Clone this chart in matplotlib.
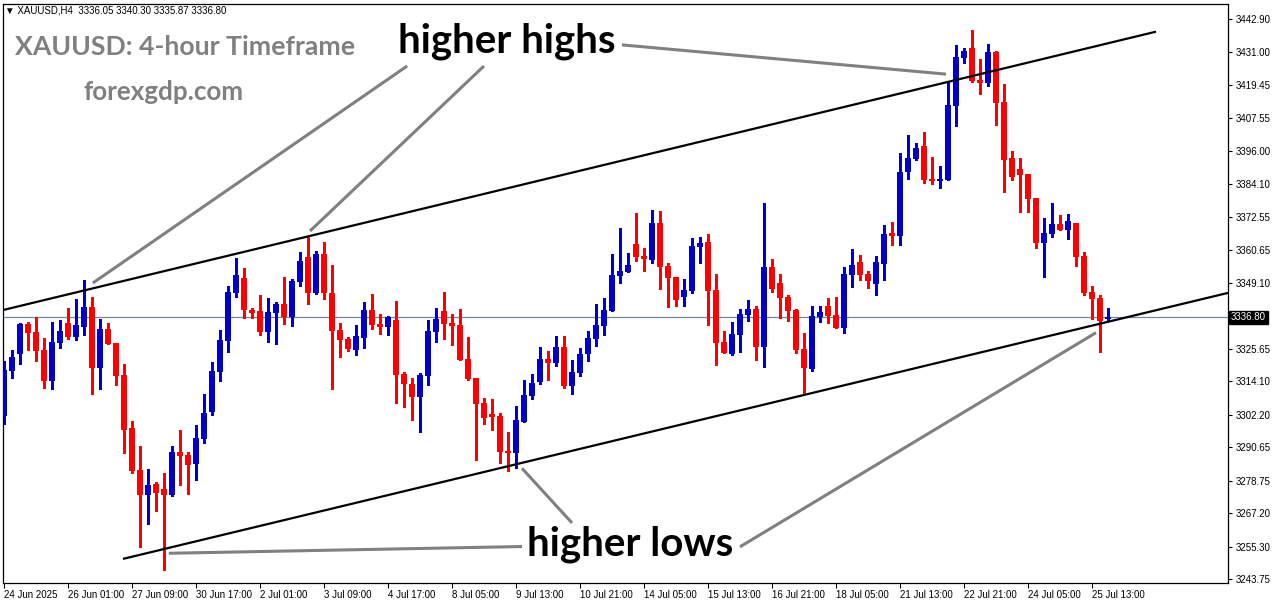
import matplotlib
matplotlib.use('Agg')
import matplotlib.pyplot as plt
import numpy as np
from matplotlib.transforms import blended_transform_factory

# ---------------- data ----------------
opens = [
    3301.8, 3317.8, 3323.9, 3334.4, 3331.6, 3325.2, 3314.3, 3327.8, 3334.7, 3329.9,
    3333.5, 3340.4, 3318.9, 3332.7, 3327.7, 3316.3, 3297.5, 3282.5, 3273.8, 3277.6,
    3275.9, 3273.5, 3288.9, 3287.9, 3284.8, 3293.7, 3303.2, 3317.5, 3328.5, 3345.6,
    3350.8, 3339.4, 3339.1, 3331.7, 3338.5, 3341.6, 3336.9, 3349.5, 3358.3, 3345.4,
    3359.3, 3345.5, 3332.3, 3329.1, 3325.2, 3329.6, 3339.4, 3334.4, 3333.5, 3335.9,
    3316.7, 3313.2, 3308.6, 3316.1, 3331.7, 3339.1, 3334.8, 3334.1, 3322.0, 3315.4,
    3306.4, 3302.3, 3301.7, 3289.3, 3288.7, 3299.7, 3308.9, 3313.9, 3322.0, 3320.7,
    3326.3, 3312.5, 3317.1, 3323.8, 3329.2, 3333.8, 3339.2, 3351.6, 3353.0, 3362.9,
    3358.6, 3357.2, 3370.5, 3355.1, 3351.2, 3344.0, 3346.2, 3361.9, 3363.6, 3346.5,
    3328.0, 3323.9, 3330.6, 3337.7, 3339.8, 3326.4, 3354.7, 3349.0, 3344.0, 3339.4,
    3325.6, 3318.4, 3336.9, 3340.8, 3337.7, 3333.0, 3351.9, 3356.5, 3352.2, 3348.6,
    3355.8, 3366.8, 3365.9, 3388.6, 3393.2, 3397.7, 3386.0, 3385.3, 3385.7, 3412.0,
    3429.0, 3432.6, 3421.2, 3420.2, 3431.2, 3413.4, 3393.5, 3389.6, 3387.8, 3379.3,
    3363.2, 3366.5, 3370.0, 3367.9, 3370.4, 3358.6, 3345.8, 3343.7, 3336.05]
highs = [
    3321.3, 3325.2, 3334.9, 3335.3, 3336.8, 3329.5, 3335.2, 3335.9, 3340.0, 3343.3,
    3350.1, 3343.9, 3336.2, 3334.8, 3327.7, 3320.2, 3299.9, 3291.0, 3282.9, 3278.4,
    3281.6, 3291.1, 3296.8, 3288.9, 3298.5, 3309.6, 3320.9, 3332.3, 3347.9, 3358.0,
    3354.2, 3340.0, 3344.8, 3343.7, 3342.2, 3351.3, 3350.6, 3359.9, 3365.7, 3360.4,
    3363.6, 3355.4, 3334.7, 3329.9, 3334.1, 3342.3, 3345.1, 3338.0, 3337.2, 3342.6,
    3317.4, 3315.2, 3317.0, 3335.9, 3340.2, 3345.8, 3338.0, 3339.7, 3329.9, 3315.4,
    3308.1, 3307.7, 3302.9, 3296.0, 3305.3, 3314.5, 3316.7, 3326.3, 3324.8, 3330.2,
    3330.2, 3321.6, 3325.9, 3331.8, 3341.6, 3343.7, 3359.3, 3368.6, 3359.7, 3373.8,
    3361.4, 3375.0, 3374.6, 3356.0, 3351.2, 3350.4, 3365.0, 3365.4, 3366.5, 3352.2,
    3332.0, 3335.2, 3339.8, 3343.0, 3340.8, 3377.5, 3357.6, 3352.2, 3344.8, 3339.8,
    3331.2, 3340.8, 3340.8, 3343.7, 3344.0, 3354.7, 3361.1, 3359.0, 3353.3, 3358.6,
    3369.6, 3370.7, 3395.3, 3401.7, 3398.8, 3402.7, 3393.8, 3390.6, 3420.9, 3433.7,
    3432.6, 3439.0, 3428.7, 3434.0, 3431.5, 3419.8, 3396.0, 3393.5, 3387.8, 3379.3,
    3372.1, 3377.5, 3373.2, 3373.6, 3370.4, 3360.0, 3347.9, 3344.8, 3340.30]
lows = [
    3298.8, 3315.4, 3320.3, 3325.2, 3321.4, 3311.8, 3311.3, 3326.0, 3329.1, 3328.9,
    3330.5, 3309.7, 3311.4, 3327.3, 3312.8, 3288.7, 3281.6, 3255.3, 3263.3, 3268.1,
    3247.0, 3273.3, 3277.2, 3274.0, 3279.0, 3292.2, 3302.1, 3314.3, 3324.6, 3344.2,
    3336.6, 3336.6, 3330.5, 3328.2, 3327.3, 3334.6, 3333.7, 3348.1, 3341.7, 3345.1,
    3343.3, 3311.4, 3322.8, 3324.9, 3323.3, 3326.0, 3332.8, 3331.0, 3330.5, 3306.5,
    3305.0, 3300.3, 3296.2, 3312.8, 3328.0, 3329.1, 3327.0, 3321.5, 3314.4, 3286.2,
    3299.0, 3296.8, 3284.9, 3282.3, 3283.1, 3299.5, 3307.8, 3313.1, 3314.5, 3319.6,
    3311.8, 3309.7, 3316.1, 3321.4, 3326.7, 3330.6, 3339.1, 3348.9, 3352.9, 3357.0,
    3353.4, 3356.3, 3347.0, 3340.6, 3340.8, 3340.8, 3345.6, 3356.1, 3334.1, 3319.9,
    3324.0, 3323.4, 3324.5, 3335.6, 3321.6, 3319.2, 3345.8, 3336.6, 3335.6, 3324.2,
    3309.6, 3317.8, 3335.2, 3334.8, 3332.9, 3331.2, 3347.6, 3350.1, 3347.2, 3344.8,
    3350.1, 3362.5, 3362.6, 3386.1, 3392.8, 3384.6, 3384.2, 3382.8, 3385.6, 3404.9,
    3427.3, 3420.5, 3416.2, 3419.1, 3405.2, 3381.4, 3385.7, 3374.3, 3374.3, 3361.5,
    3351.2, 3365.4, 3367.8, 3364.7, 3355.1, 3344.8, 3336.2, 3324.5, 3335.87]
closes = [
    3318.1, 3322.7, 3334.4, 3331.4, 3324.8, 3314.3, 3328.0, 3332.0, 3329.9, 3334.1,
    3340.4, 3318.9, 3332.7, 3327.4, 3316.1, 3296.9, 3282.3, 3273.7, 3277.2, 3274.5,
    3273.7, 3288.9, 3287.6, 3284.4, 3293.9, 3302.8, 3317.7, 3328.8, 3345.8, 3351.9,
    3339.4, 3338.5, 3331.7, 3338.7, 3341.6, 3336.9, 3349.7, 3356.8, 3345.6, 3359.3,
    3345.6, 3332.1, 3328.8, 3325.6, 3330.2, 3339.4, 3334.2, 3333.5, 3336.9, 3316.4,
    3313.2, 3308.6, 3316.3, 3332.0, 3336.3, 3334.6, 3333.8, 3321.6, 3314.9, 3306.1,
    3301.1, 3301.5, 3289.0, 3288.7, 3300.3, 3309.1, 3313.5, 3322.0, 3320.7, 3326.3,
    3312.5, 3317.4, 3323.8, 3329.5, 3334.1, 3339.4, 3351.9, 3353.3, 3355.4, 3358.4,
    3357.4, 3370.5, 3354.8, 3350.8, 3343.1, 3346.5, 3362.3, 3363.4, 3346.2, 3327.7,
    3324.1, 3330.9, 3338.0, 3339.8, 3326.4, 3354.7, 3346.9, 3343.7, 3339.2, 3325.2,
    3318.9, 3337.3, 3338.7, 3337.3, 3333.0, 3352.2, 3355.4, 3351.9, 3349.7, 3356.5,
    3366.5, 3365.9, 3388.5, 3393.5, 3397.0, 3385.7, 3385.3, 3386.0, 3412.3, 3429.4,
    3431.5, 3420.9, 3420.2, 3431.2, 3413.0, 3392.8, 3386.7, 3387.4, 3378.9, 3363.2,
    3366.8, 3370.0, 3367.9, 3371.1, 3358.3, 3345.5, 3343.3, 3335.5, 3336.80]

x_labels = ['24 Jun 2025', '26 Jun 01:00', '27 Jun 09:00', '30 Jun 17:00', '2 Jul 01:00',
            '3 Jul 09:00', '4 Jul 17:00', '8 Jul 05:00', '9 Jul 13:00', '10 Jul 21:00',
            '14 Jul 05:00', '15 Jul 13:00', '16 Jul 21:00', '18 Jul 05:00', '21 Jul 13:00',
            '22 Jul 21:00', '24 Jul 05:00', '25 Jul 13:00']
bars_per_label = 8
y_ticks = [3442.90, 3431.00, 3419.45, 3407.55, 3396.00, 3384.10, 3372.55, 3360.65,
           3349.10, 3325.65, 3314.10, 3302.20, 3290.65, 3278.75, 3267.20, 3255.30, 3243.75]
current_price = 3336.80
header = '\u25bc XAUUSD,H4  3336.05 3340.30 3335.87 3336.80'

# channel lines (bar index, price)
upper_channel_x = [-0.125, 144.0]
upper_channel_y = [3339.4, 3438.4]
lower_channel_x = [14.875, 153.0]
lower_channel_y = [3250.9, 3345.5]
# pointer lines: (x0, y0, x1, y1)
pointers = [
    (11.1, 3349.0, 50.4, 3426.2),
    (38.25, 3367.5, 60.0, 3426.2),
    (77.25, 3433.7, 117.75, 3423.3),
    (20.6, 3252.9, 64.75, 3255.3),
    (64.75, 3283.1, 71.0, 3263.7),
    (92.0, 3255.2, 136.5, 3331.35),
]

# ---------------- figure ----------------
W, H = 1276, 604
fig = plt.figure(figsize=(W / 100, H / 100), dpi=100)
fig.patch.set_facecolor('white')
ax = fig.add_axes([3 / W, 21 / H, 1225 / W, 579 / H])
ax.set_facecolor('white')
ax.set_xlim(-0.125, 153.0)
ax.set_ylim(3242.33, 3448.24)

o = np.array(opens); h = np.array(highs); l = np.array(lows); c = np.array(closes)
idx = np.arange(len(o))
up = c >= o
cols = np.where(up, '#0000CD', '#FF0000')

ax.axhline(current_price, color='#778899', lw=0.9, zorder=1)
ax.vlines(idx, l, h, colors=cols, linewidth=1.0, antialiased=False, zorder=2)
body_bottom = np.minimum(o, c)
body_h = np.maximum(np.abs(c - o), 0.45)
ax.bar(idx, body_h, bottom=body_bottom, width=0.7, color=cols, linewidth=0,
       antialiased=False, zorder=3)

ax.plot(upper_channel_x, upper_channel_y, color='black', lw=1.6, zorder=4,
        solid_capstyle='butt')
ax.plot(lower_channel_x, lower_channel_y, color='black', lw=1.6, zorder=4,
        solid_capstyle='butt')
for x0, y0, x1, y1 in pointers:
    ax.plot([x0, x1], [y0, y1], color='#808080', lw=2.2, zorder=4,
            solid_capstyle='butt')

for sp in ax.spines.values():
    sp.set_color('black')
    sp.set_linewidth(0.9)

tick_font = ['Liberation Sans', 'DejaVu Sans']
ax.yaxis.tick_right()
ax.set_yticks(y_ticks)
ax.set_yticklabels(['%.2f' % v for v in y_ticks], fontsize=7, family=tick_font)
ax.tick_params(axis='y', direction='out', length=3, width=0.8, pad=2.5, colors='black')

xt = np.arange(len(x_labels)) * bars_per_label
ax.set_xticks(xt)
ax.set_xticklabels(x_labels, fontsize=7, family=tick_font, ha='left')
ax.tick_params(axis='x', direction='out', length=3.5, width=0.8, pad=1.5, colors='black')

tr = blended_transform_factory(ax.transAxes, ax.transData)
ax.text(1.0025, current_price, '3336.80', transform=tr, color='white', fontsize=7,
        family=tick_font, va='center', ha='left', zorder=6,
        bbox=dict(boxstyle='square,pad=0.18', fc='black', ec='black'))

fig.text(5 / W, 1 - 10.5 / H, header, fontsize=7, family=tick_font, va='center', ha='left')

big_font = ['Lato', 'DejaVu Sans']
fig.canvas.draw()
renderer = fig.canvas.get_renderer()


def fit_text(s, x_px, base_px, width_px, color):
    t = fig.text(x_px / W, 1 - base_px / H, s, fontsize=20, fontweight='bold',
                 color=color, family=big_font, va='baseline', ha='left')
    bb = t.get_window_extent(renderer=renderer)
    t.set_fontsize(20 * width_px / bb.width)
    return t


fit_text('higher highs', 398, 52.7, 217, 'black')
fit_text('higher lows', 527, 555.7, 206, 'black')
fit_text('XAUUSD: 4-hour Timeframe', 15, 55, 339, '#808080')
fit_text('forexgdp.com', 83, 100, 160, '#808080')

fig.savefig('out.png', dpi=100, facecolor='white')
